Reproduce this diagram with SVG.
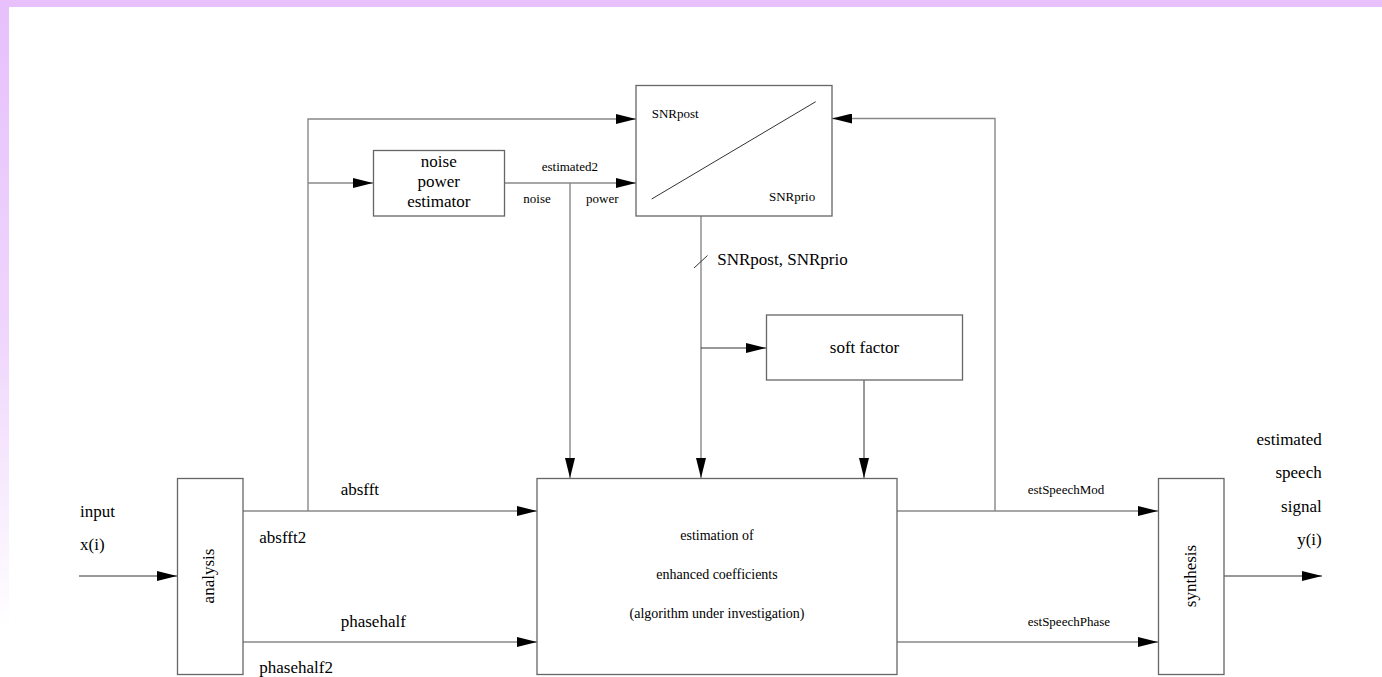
<svg xmlns="http://www.w3.org/2000/svg" width="1382" height="677" viewBox="0 0 1382 677" font-family="'Liberation Serif', 'Times New Roman', serif">
<defs>
<linearGradient id="lband" x1="0" y1="0" x2="0" y2="1">
<stop offset="0" stop-color="#e6c0fc"/>
<stop offset="0.5" stop-color="#efd6fc"/>
<stop offset="0.93" stop-color="#ffffff"/>
</linearGradient>
<marker id="ah" markerUnits="userSpaceOnUse" markerWidth="20" markerHeight="10" refX="20" refY="5" orient="auto">
<path d="M0,0 L20,5 L0,10 z" fill="#000"/>
</marker>
<style>
.box{fill:#fff;stroke:#666;stroke-width:1.3}
.ln{fill:none;stroke:#888;stroke-width:1.4}
.thin{fill:none;stroke:#333;stroke-width:1}
text{font-family:'Liberation Serif','Times New Roman',serif;fill:#000}
.t{font-size:17px}
.s{font-size:13px}
.m{font-size:14px}
.c{text-anchor:middle}
.r{text-anchor:end}
</style>
</defs>
<rect x="0" y="0" width="1382" height="677" fill="#fff"/>
<rect x="0" y="0" width="9" height="677" fill="url(#lband)"/>
<rect x="0" y="0" width="1382" height="7" fill="#e8c0fc"/>

<g id="connectors">
<line class="thin" x1="79" y1="576" x2="177" y2="576" marker-end="url(#ah)"/>
<line class="ln" x1="243" y1="511" x2="537" y2="511" marker-end="url(#ah)"/>
<line class="ln" x1="243" y1="642" x2="537" y2="642" marker-end="url(#ah)"/>
<polyline class="ln" points="308,511 308,119 636,119" marker-end="url(#ah)"/>
<line class="ln" x1="308" y1="183" x2="373" y2="183" marker-end="url(#ah)"/>
<line class="ln" x1="504" y1="183" x2="636" y2="183" marker-end="url(#ah)"/>
<line class="ln" x1="570" y1="183" x2="570" y2="478" marker-end="url(#ah)"/>
<line class="ln" x1="701" y1="216" x2="701" y2="478" marker-end="url(#ah)"/>
<line class="thin" x1="694" y1="268" x2="707.5" y2="255.5"/>
<line class="thin" x1="701" y1="348" x2="766" y2="348" marker-end="url(#ah)"/>
<line class="thin" x1="864" y1="380" x2="864" y2="478" marker-end="url(#ah)"/>
<line class="ln" x1="897" y1="511" x2="1158" y2="511" marker-end="url(#ah)"/>
<line class="ln" x1="897" y1="642" x2="1158" y2="642" marker-end="url(#ah)"/>
<polyline class="ln" points="995,511 995,118.5 832,118.5" marker-end="url(#ah)"/>
<line class="thin" x1="1224" y1="576" x2="1322" y2="576" marker-end="url(#ah)"/>
<text class="s" x="541.7" y="170.7">estimated2</text>
<text class="s" x="523.3" y="202.7">noise</text>
<text class="s" x="586" y="202.7">power</text>
<text class="t" x="717.3" y="265">SNRpost, SNRprio</text>
<text class="t" x="340.7" y="495">absfft</text>
<text class="t" x="259.3" y="543.3">absfft2</text>
<text class="t" x="340.7" y="627">phasehalf</text>
<text class="t" x="259.3" y="673">phasehalf2</text>
<text class="s" x="1027.7" y="494.3">estSpeechMod</text>
<text class="s" x="1027.7" y="625.7">estSpeechPhase</text>
</g>

<g id="input-label">
<text class="t" x="80" y="517">input</text>
<text class="t" x="80" y="550">x(i)</text>
</g>

<g id="analysis">
<rect class="box" x="177.5" y="478.5" width="65.5" height="196"/>
<text class="t c" transform="translate(214,576) rotate(-90)">analysis</text>
</g>

<g id="noise-power-estimator">
<rect class="box" x="373.5" y="150.5" width="131" height="65.5"/>
<text class="t c" x="438.8" y="167.3">noise</text>
<text class="t c" x="438.8" y="187.3">power</text>
<text class="t c" x="438.8" y="206.7">estimator</text>
</g>

<g id="snr">
<rect class="box" x="636" y="85.5" width="196" height="130.5"/>
<line class="thin" x1="651.7" y1="199" x2="815.7" y2="101.7"/>
<text class="s" x="651.7" y="118.3">SNRpost</text>
<text class="s" x="769" y="200.7">SNRprio</text>
</g>

<g id="soft-factor">
<rect class="box" x="766.5" y="315" width="196" height="65"/>
<text class="t c" x="864.5" y="352.7">soft factor</text>
</g>

<g id="estimation">
<rect class="box" x="537" y="478.5" width="360" height="196"/>
<text class="m c" x="717" y="540">estimation of</text>
<text class="m c" x="717" y="579.3">enhanced coefficients</text>
<text class="m c" x="717" y="618.3">(algorithm under investigation)</text>
</g>

<g id="synthesis">
<rect class="box" x="1158.5" y="478.5" width="65.5" height="196"/>
<text class="t c" transform="translate(1196,576) rotate(-90)">synthesis</text>
</g>

<g id="output-label">
<text class="t r" x="1321.7" y="445">estimated</text>
<text class="t r" x="1321.7" y="478.3">speech</text>
<text class="t r" x="1321.7" y="511.7">signal</text>
<text class="t r" x="1321.7" y="545">y(i)</text>
</g>
</svg>
